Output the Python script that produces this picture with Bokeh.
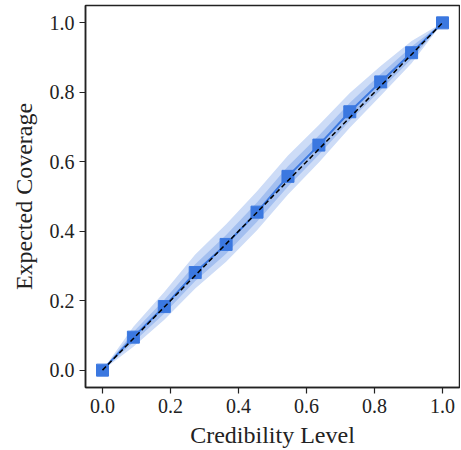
from bokeh.plotting import figure
from bokeh.embed import file_html
from bokeh.resources import INLINE
from bokeh.models import Range1d, FixedTicker, PrintfTickFormatter

# Credibility levels and expected coverage
credibility = [0.0, 0.0909, 0.1818, 0.2727, 0.3636, 0.4545, 0.5455, 0.6364, 0.7273, 0.8182, 0.9091, 1.0]
coverage = [0.0, 0.095, 0.183, 0.281, 0.362, 0.455, 0.558, 0.648, 0.744, 0.830, 0.914, 1.0]
inner_lower = [0.0, 0.080, 0.163, 0.257, 0.335, 0.427, 0.529, 0.620, 0.718, 0.807, 0.896, 1.0]
inner_upper = [0.0, 0.110, 0.203, 0.305, 0.389, 0.483, 0.587, 0.676, 0.770, 0.853, 0.932, 1.0]
outer_lower = [0.0, 0.067, 0.145, 0.235, 0.312, 0.403, 0.506, 0.598, 0.698, 0.790, 0.884, 1.0]
outer_upper = [0.0, 0.125, 0.225, 0.333, 0.420, 0.515, 0.618, 0.706, 0.798, 0.876, 0.948, 1.0]
diag = [0.0, 1.0]
ticks = [0.0, 0.2, 0.4, 0.6, 0.8, 1.0]
x_title = "Credibility Level"
y_title = "Expected Coverage"

BLUE = "#3b78e0"
FONT = "Liberation Serif"
INK = "#222222"

p = figure(width=460, height=450,
           x_range=Range1d(-0.05, 1.05), y_range=Range1d(-0.05, 1.05),
           output_backend="svg", toolbar_location=None,
           min_border_left=85, min_border_right=1, min_border_top=5, min_border_bottom=62)
p.background_fill_color = "white"
p.border_fill_color = "white"
p.grid.visible = False
p.outline_line_color = INK
p.outline_line_width = 1.5

p.varea(x=credibility, y1=outer_lower, y2=outer_upper, fill_color="#cddcf7")
p.varea(x=credibility, y1=inner_lower, y2=inner_upper, fill_color="#a3bff0")
p.line(credibility, coverage, line_color=BLUE, line_width=2)
p.scatter(credibility, coverage, marker="square", size=12, fill_color=BLUE, line_color=BLUE)
p.line(diag, diag, line_color="black", line_width=1.5, line_dash="5 3")

p.xaxis.axis_label = x_title
p.yaxis.axis_label = y_title

for ax in (p.xaxis[0], p.yaxis[0]):
    ax.ticker = FixedTicker(ticks=ticks)
    ax.formatter = PrintfTickFormatter(format="%.1f")
    ax.major_tick_out = 6
    ax.major_tick_in = 0
    ax.minor_tick_out = 0
    ax.minor_tick_in = 0
    ax.axis_line_color = INK
    ax.axis_line_width = 1.5
    ax.major_tick_line_color = INK
    ax.major_tick_line_width = 1.2
    ax.major_label_text_font = FONT
    ax.major_label_text_font_size = "20px"
    ax.major_label_text_color = INK
    ax.major_label_standoff = 5
    ax.axis_label_text_font = FONT
    ax.axis_label_text_font_size = "24px"
    ax.axis_label_text_font_style = "normal"
    ax.axis_label_text_color = INK

p.xaxis.axis_label_standoff = 6
p.yaxis.axis_label_standoff = 10

open("out.html", "w").write(file_html(p, INLINE))
